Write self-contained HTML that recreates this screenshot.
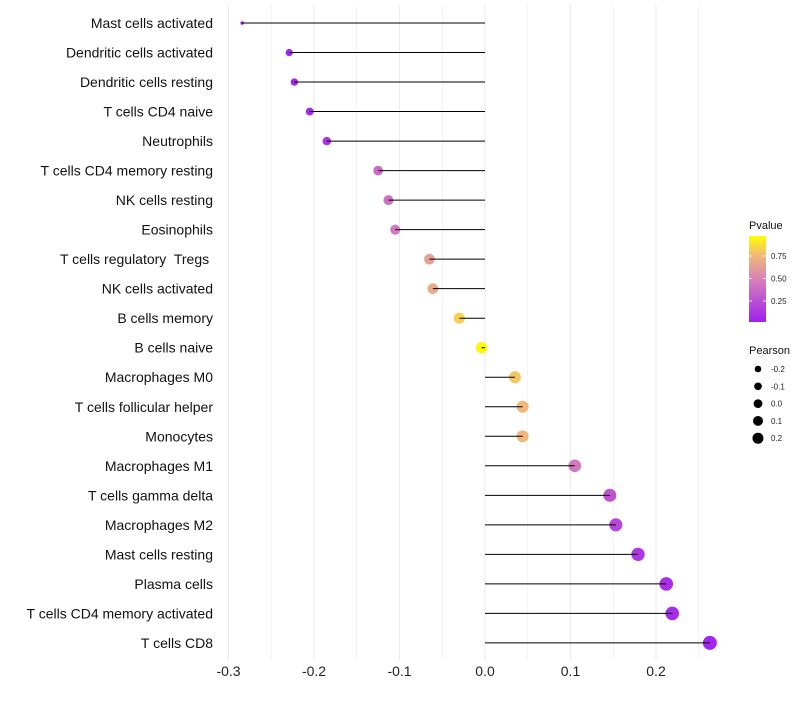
<!DOCTYPE html>
<html><head><meta charset="utf-8"><style>
body{margin:0;background:#fff;font-family:"Liberation Sans",sans-serif}
text{white-space:pre}
</style></head><body>
<svg id="c" width="800" height="700" xmlns="http://www.w3.org/2000/svg">
<defs><linearGradient id="pg" x1="0" y1="1" x2="0" y2="0">
<stop offset="0" stop-color="#a020f0"/><stop offset="0.5" stop-color="#d882b8"/><stop offset="0.8" stop-color="#f2c070"/><stop offset="1" stop-color="#ffff00"/>
</linearGradient></defs>
</svg>
<script>
const categories=["Mast cells activated","Dendritic cells activated","Dendritic cells resting","T cells CD4 naive","Neutrophils","T cells CD4 memory resting","NK cells resting","Eosinophils","T cells regulatory  Tregs ","NK cells activated","B cells memory","B cells naive","Macrophages M0","T cells follicular helper","Monocytes","Macrophages M1","T cells gamma delta","Macrophages M2","Mast cells resting","Plasma cells","T cells CD4 memory activated","T cells CD8"];
const pearson=[-0.284,-0.229,-0.223,-0.205,-0.185,-0.125,-0.113,-0.105,-0.065,-0.061,-0.030,-0.004,0.035,0.044,0.044,0.105,0.146,0.153,0.179,0.212,0.219,0.263];
const pvalue=[0.01,0.03,0.04,0.06,0.1,0.38,0.42,0.45,0.65,0.7,0.85,0.98,0.82,0.76,0.76,0.45,0.26,0.2,0.12,0.07,0.06,0.02];
const xTicks=[-0.3,-0.2,-0.1,0.0,0.1,0.2];
const xTickLabels=["-0.3","-0.2","-0.1","0.0","0.1","0.2"];
const pTicks=[0.25,0.5,0.75];
const sizeTicks=[-0.2,-0.1,0.0,0.1,0.2];
const NS="http://www.w3.org/2000/svg",svg=document.getElementById('c');
const xs=v=>485+v*855;
const ys=i=>23+i*29.52;
const rs=v=>Math.max(1.2,7*Math.pow(Math.max(0.001,(v+0.29)/0.553),0.3));
function mix(a,b,t){return a.map((x,i)=>Math.round(x+(b[i]-x)*t));}
function col(p){const s=[[0,[160,32,240]],[0.5,[216,130,184]],[0.8,[242,192,112]],[1,[255,255,0]]];
for(let i=1;i<s.length;i++)if(p<=s[i][0]){const c=mix(s[i-1][1],s[i][1],(p-s[i-1][0])/(s[i][0]-s[i-1][0]));return `rgb(${c})`;}return 'rgb(255,255,0)';}
function el(t,a,txt){const e=document.createElementNS(NS,t);for(const k in a)e.setAttribute(k,a[k]);if(txt!=null)e.textContent=txt;svg.appendChild(e);return e;}
for(let v=-0.3;v<=0.26;v+=0.05){const g=el('line',{x1:xs(v),x2:xs(v),y1:5,y2:660,stroke:'#ebebeb','stroke-width':Math.abs(Math.round(v*20))%2?0.6:1.1});

}
xTicks.forEach((v,i)=>{const t=el('text',{x:xs(v),y:676,'font-size':14,'text-anchor':'middle',fill:'#222'},xTickLabels[i]);

});
categories.forEach((c,i)=>{const y=ys(i);
const t=el('text',{x:213,y:y+5,'font-size':14,'text-anchor':'end',fill:'#111'},c);


const d=el('circle',{cx:xs(pearson[i]),cy:y,r:rs(pearson[i]),fill:col(pvalue[i])});


const l=el('line',{x1:xs(0),x2:xs(pearson[i]),y1:y,y2:y,stroke:'#000','stroke-width':1});

});
const lt=el('text',{x:749,y:229,'font-size':11,fill:'#111'},'Pvalue');


const cb=el('rect',{x:749,y:236,width:17,height:86,fill:'url(#pg)'});


pTicks.forEach(p=>{const y=323.5-p*90;
const tl=el('text',{x:771,y:y+3,'font-size':8,fill:'#222'},p.toFixed(2));


el('line',{x1:749,x2:752,y1:y,y2:y,stroke:'#fff','stroke-width':0.8});el('line',{x1:763,x2:766,y1:y,y2:y,stroke:'#fff','stroke-width':0.8});});
const st=el('text',{x:749,y:354,'font-size':11,fill:'#111'},'Pearson');


sizeTicks.forEach((v,i)=>{const y=369+i*17.3;
const c=el('circle',{cx:758,cy:y,r:3.3+i*0.55,fill:'#000'});


const t=el('text',{x:771,y:y+3,'font-size':8,fill:'#222'},v.toFixed(1));

});
</script>
</body></html>
